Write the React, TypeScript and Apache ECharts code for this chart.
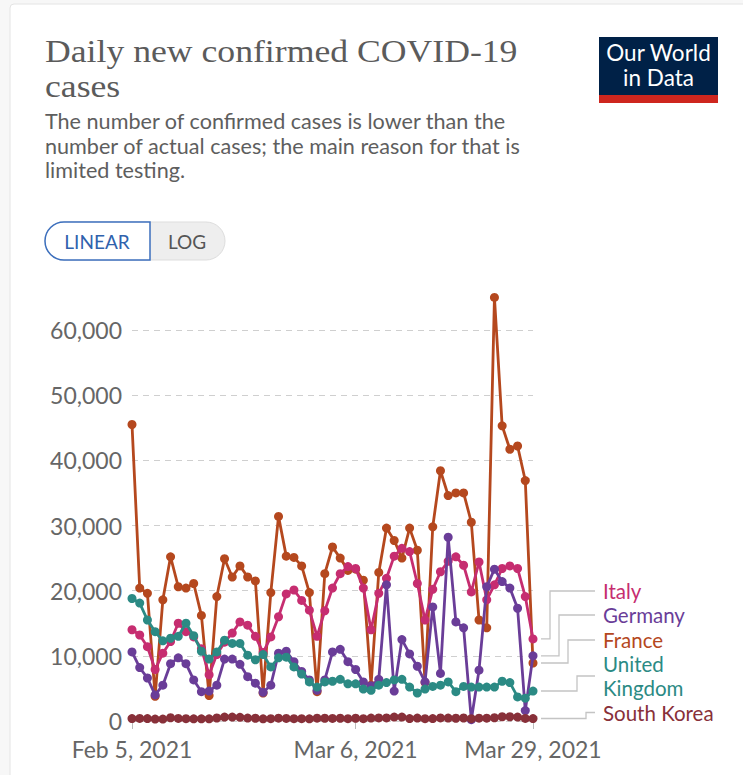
import React, { useEffect, useRef } from "react";
import * as echarts from "echarts";

// ---- Data ----
const startDate = new Date(Date.UTC(2021, 1, 5)); // Feb 5, 2021
const dayCount = 53; // Feb 5 .. Mar 29, 2021
const dates: string[] = Array.from({ length: dayCount }, (_, i) => {
  const d = new Date(startDate.getTime() + i * 86400000);
  return d.toISOString().slice(0, 10);
});
const tickDates = ["2021-02-05", "2021-03-06", "2021-03-29"];
const tickLabels = ["Feb 5, 2021", "Mar 6, 2021", "Mar 29, 2021"];

const france = [
  45500, 20400, 19600, 3800, 18600, 25200, 20600, 20400, 21100, 16200,
  3900, 19100, 24900, 22100, 23800, 22100, 21500, 4300, 19700, 31400,
  25300, 25100, 23800, 19700, 4500, 22600, 26700, 25000, 23100, 23300,
  21600, 5500, 22800, 29600, 27700, 25000, 29600, 26200, 5900, 29800,
  38400, 34600, 35000, 35000, 30500, 15500, 14300, 65000, 45300, 41700,
  42200, 36900, 8900,
];
const italy = [
  14000, 13200, 11400, 7900, 10400, 12200, 15000, 13700, 12900, 11100,
  7100, 10200, 12100, 13500, 15200, 14700, 13000, 10500, 12900, 16000,
  19500, 20100, 18500, 17000, 13000, 16900, 20400, 22600, 23700, 23400,
  20400, 14000, 19600, 21900, 25300, 26500, 26000, 21100, 15500, 20200,
  22900, 24500, 25200, 23900, 19800, 24400, 18600, 20900, 23400, 23800,
  23400, 19100, 12600,
];
const germany = [
  10600, 8200, 6600, 4000, 5500, 8800, 9700, 8800, 6300, 4500,
  4600, 5500, 9500, 9500, 8700, 6800, 5800, 4400, 5500, 10400,
  10700, 9100, 7600, 6300, 4700, 6300, 10600, 11000, 9100, 7900,
  6000, 5400, 6400, 20900, 4600, 12500, 10300, 8400, 6000, 17500,
  7300, 28200, 15200, 14300, 200, 7800, 20600, 23300, 21400, 20400,
  17300, 1600, 10000,
];
const unitedKingdom = [
  18800, 18100, 15500, 13700, 12300, 12700, 13000, 15000, 13100, 10700,
  9500, 10600, 12400, 11900, 11900, 10100, 9400, 10200, 8300, 9700,
  9800, 8300, 7200, 6000, 5200, 6000, 6100, 6400, 5700, 5700,
  4900, 4700, 5500, 5900, 6300, 6400, 5200, 4300, 4900, 5300,
  5500, 6000, 4500, 5300, 5200, 5200, 5200, 5200, 6100, 5900,
  3700, 3500, 4600,
];
const southKorea = [
  370, 390, 370, 290, 300, 500, 400, 360, 340, 330,
  340, 460, 600, 600, 560, 450, 420, 330, 360, 440,
  400, 360, 360, 340, 440, 420, 400, 420, 350, 420,
  350, 450, 470, 470, 600, 600, 380, 450, 360, 380,
  470, 450, 420, 460, 350, 430, 430, 500, 650, 650,
  600, 400, 380,
];

const seriesNames = ["France", "Italy", "Germany", "United Kingdom", "South Korea"];
const seriesValues = [france, italy, germany, unitedKingdom, southKorea];
const seriesColors = ["#b5481e", "#c62d70", "#6a3d98", "#2b8a84", "#883039"];

// legend (label) order on the right, top to bottom
const legendOrder = ["Italy", "Germany", "France", "United Kingdom", "South Korea"];
const legendLines: string[][] = [["Italy"], ["Germany"], ["France"], ["United", "Kingdom"], ["South Korea"]];

const FONT = "Lato, 'Noto Sans', sans-serif";

export default function App() {
  const ref = useRef<HTMLDivElement>(null);
  useEffect(() => {
    if (!ref.current) return;
    const chart = echarts.init(ref.current, undefined, { renderer: "svg" });
    const tickIdx = tickDates.map((d) => dates.indexOf(d));
    const showTick = (idx: number) => tickIdx.includes(idx);

    const option: any = {
      animation: false,
      backgroundColor: "#f7f7f7",
      grid: { left: 132, right: 210, top: 330, bottom: 54, containLabel: false },
      xAxis: {
        type: "category",
        data: dates,
        boundaryGap: false,
        axisLine: { show: false },
        axisTick: { show: true, interval: showTick, length: 8, lineStyle: { color: "#bbb" } },
        axisLabel: {
          interval: showTick,
          formatter: (v: string) => {
            const k = tickDates.indexOf(v);
            return k >= 0 ? tickLabels[k] : "";
          },
          color: "#666",
          fontSize: 23,
          fontFamily: FONT,
          margin: 16,
        },
        splitLine: { show: false },
      },
      yAxis: {
        type: "value",
        min: 0,
        max: 60000,
        interval: 10000,
        axisLine: { show: false },
        axisTick: { show: false },
        axisLabel: {
          formatter: (v: number) => v.toLocaleString("en-US"),
          color: "#666",
          fontSize: 23,
          fontFamily: FONT,
          margin: 10,
        },
        splitLine: { show: true, lineStyle: { color: "#cfcfcf", type: [6, 5], width: 1 } },
      },
      series: seriesNames.map((name, i) => ({
        name,
        type: "line",
        data: seriesValues[i],
        symbol: "circle",
        symbolSize: 9,
        showSymbol: true,
        showAllSymbol: true,
        clip: false,
        lineStyle: { width: 2.8, color: seriesColors[i] },
        itemStyle: { color: seriesColors[i] },
        z: 2 + i,
      })),
      graphic: [],
    };
    chart.setOption(option);

    const g: any[] = [];
    // card
    g.push({ type: "rect", shape: { x: 10, y: 4, width: 760, height: 800, r: 4 }, style: { fill: "#ffffff", stroke: "#e4e4e4", lineWidth: 1 }, z: -10, silent: true });
    // title (two lines in one text, slightly widened to match the display serif)
    g.push({
      type: "text", x: 45, y: 33, scaleX: 1.115, scaleY: 1,
      style: {
        text: "Daily new confirmed COVID-19\ncases",
        fill: "#5b5b5b",
        font: "32px 'Liberation Serif', 'DejaVu Serif', serif",
        lineHeight: 35.5,
        verticalAlign: "top",
      },
    });
    // subtitle
    g.push({
      type: "text", x: 45, y: 109,
      style: {
        text: "The number of confirmed cases is lower than the\nnumber of actual cases; the main reason for that is\nlimited testing.",
        fill: "#5e5e5e",
        font: `21.6px ${FONT}`,
        lineHeight: 24.5,
        verticalAlign: "top",
      },
    });
    // logo
    g.push({ type: "rect", shape: { x: 599, y: 37, width: 119, height: 66 }, style: { fill: "#002147" } });
    g.push({ type: "rect", shape: { x: 599, y: 95, width: 119, height: 8 }, style: { fill: "#ce261e" } });
    g.push({
      type: "text", x: 658.5, y: 64.5,
      style: { text: "Our World\nin Data", fill: "#ffffff", font: `22.5px ${FONT}`, lineHeight: 25, align: "center", verticalAlign: "middle" },
    });
    // toggle
    g.push({ type: "rect", shape: { x: 45, y: 222, width: 180, height: 38, r: 19 }, style: { fill: "#eeeeee", stroke: "#dddddd", lineWidth: 1 } });
    g.push({ type: "rect", shape: { x: 45, y: 222, width: 105, height: 38, r: [19, 0, 0, 19] }, style: { fill: "#ffffff", stroke: "#3c6fbd", lineWidth: 1.5 } });
    g.push({ type: "text", x: 97, y: 241, style: { text: "LINEAR", fill: "#2f62ad", font: `19px ${FONT}`, align: "center", verticalAlign: "middle" } });
    g.push({ type: "text", x: 187, y: 241, style: { text: "LOG", fill: "#555555", font: `19px ${FONT}`, align: "center", verticalAlign: "middle" } });

    // legend labels with connectors
    const elbowX = [550, 559, 568, 577, 586];
    const labelY = [591, 615, 640, 676, 712.5];
    legendOrder.forEach((name, k) => {
      const si = seriesNames.indexOf(name);
      const vals = seriesValues[si];
      const last = vals.length - 1;
      const p = chart.convertToPixel({ xAxisIndex: 0, yAxisIndex: 0 }, [last, vals[last]]) as number[];
      const sx = p[0] + 8;
      g.push({
        type: "polyline",
        shape: { points: [[sx, p[1]], [elbowX[k], p[1]], [elbowX[k], labelY[k]], [595, labelY[k]]] },
        style: { stroke: "#c4c4c4", lineWidth: 1.3, fill: null },
        z: 1,
      });
      const lines = legendLines[k];
      g.push({
        type: "text", x: 603, y: labelY[k],
        style: { text: lines.join("\n"), fill: seriesColors[si], font: `20.5px ${FONT}`, lineHeight: 24, verticalAlign: "middle" },
      });
    });

    chart.setOption({ graphic: g });
    return () => chart.dispose();
  }, []);
  return <div ref={ref} style={{ position: "fixed", left: 0, top: 0, width: 743, height: 775 }} />;
}
